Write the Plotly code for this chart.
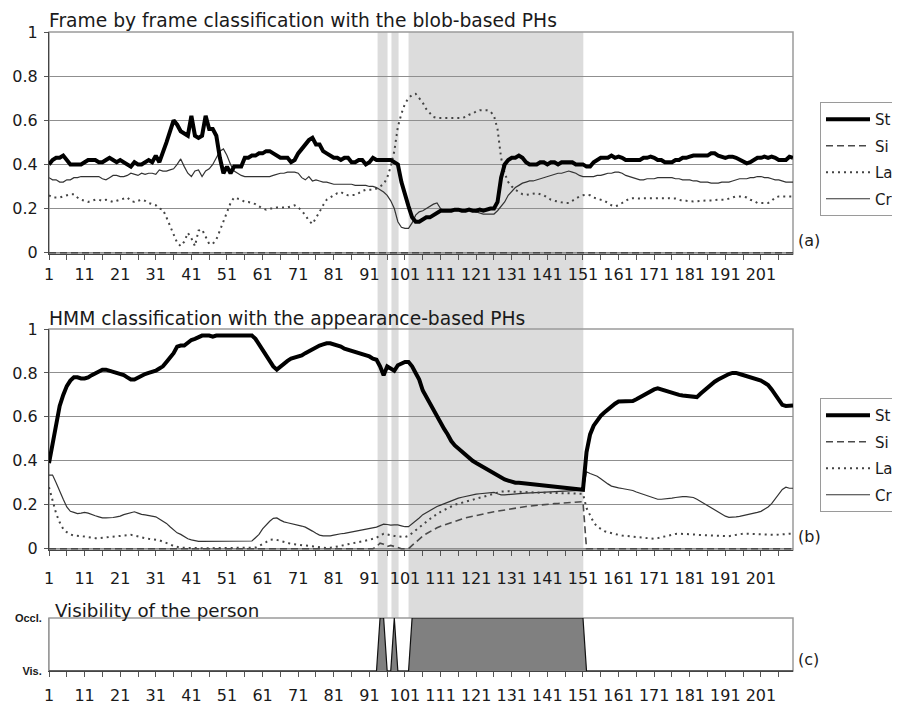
import plotly.graph_objects as go

FRAMES = list(range(1, 211))

# ---------- panel (a): frame by frame classification ----------
A_ST = [
 .40,.42,.43,.43,.44,.42,.40,.40,.40,.40,
 .41,.42,.42,.42,.41,.41,.42,.43,.42,.41,
 .42,.41,.40,.39,.41,.40,.40,.41,.42,.41,
 .44,.41,.45,.50,.55,.60,.58,.55,.54,.53,
 .62,.53,.52,.53,.62,.56,.56,.53,.43,.36,
 .39,.36,.39,.39,.39,.43,.43,.44,.44,.45,
 .45,.46,.46,.45,.44,.43,.43,.43,.41,.42,
 .45,.47,.49,.51,.52,.49,.49,.46,.45,.44,
 .43,.43,.42,.43,.43,.41,.41,.42,.42,.40,
 .41,.43,.42,.42,.42,.42,.42,.41,.40,.32,
 .26,.21,.16,.14,.14,.15,.16,.16,.17,.18,
 .19,.19,.19,.19,.195,.195,.19,.19,.195,.19,
 .19,.195,.19,.195,.20,.20,.23,.34,.40,.42,
 .43,.43,.44,.43,.41,.40,.40,.40,.41,.41,
 .40,.41,.41,.40,.41,.41,.41,.41,.40,.40,
 .40,.39,.39,.41,.42,.43,.43,.43,.44,.43,
 .435,.43,.42,.42,.42,.42,.42,.43,.43,.435,
 .43,.42,.42,.41,.41,.41,.42,.42,.43,.43,
 .435,.44,.44,.44,.44,.44,.45,.45,.44,.435,
 .43,.435,.435,.43,.42,.41,.405,.41,.42,.43,
 .43,.435,.43,.435,.43,.42,.42,.42,.435,.43,
]
A_SI = [
 0,0,0,0,0,0,0,0,0,0, 0,0,0,0,0,0,0,0,0,0, 0,0,0,0,0,0,0,0,0,0,
 0,0,0,0,0,0,0,0,0,0, 0,0,0,0,0,0,0,0,0,0, 0,0,0,0,0,0,0,0,0,0,
 0,0,0,0,0,0,0,0,0,0, 0,0,0,0,0,0,0,0,0,0, 0,0,0,0,0,0,0,0,0,0,
 0,0,0,0,0,0,0,0,0,0, 0,0,0,0,0,0,0,0,0,0, 0,0,0,0,0,0,0,0,0,0,
 0,0,0,0,0,0,0,0,0,0, 0,0,0,0,0,0,0,0,0,0, 0,0,0,0,0,0,0,0,0,0,
 0,0,0,0,0,0,0,0,0,0, 0,0,0,0,0,0,0,0,0,0, 0,0,0,0,0,0,0,0,0,0,
 0,0,0,0,0,0,0,0,0,0, 0,0,0,0,0,0,0,0,0,0, 0,0,0,0,0,0,0,0,0,0,
]
A_LA = [
 .26,.25,.25,.25,.255,.26,.265,.265,.25,.24,
 .235,.23,.235,.24,.24,.235,.24,.235,.23,.235,
 .24,.245,.25,.235,.23,.235,.24,.235,.225,.22,
 .215,.20,.195,.16,.12,.08,.045,.03,.05,.09,
 .065,.03,.10,.105,.07,.04,.04,.06,.10,.14,
 .18,.225,.25,.245,.24,.23,.23,.225,.22,.21,
 .20,.195,.20,.20,.205,.205,.205,.205,.21,.215,
 .205,.19,.17,.145,.13,.155,.185,.215,.24,.25,
 .26,.27,.275,.265,.26,.26,.262,.27,.28,.285,
 .285,.285,.29,.30,.31,.34,.39,.46,.57,.63,
 .675,.70,.715,.72,.70,.68,.65,.63,.615,.61,
 .61,.61,.61,.61,.61,.61,.61,.615,.625,.63,
 .64,.645,.645,.645,.64,.62,.56,.43,.36,.32,
 .30,.285,.275,.265,.262,.265,.27,.27,.265,.26,
 .25,.24,.235,.23,.228,.225,.225,.235,.245,.255,
 .26,.262,.26,.25,.245,.24,.235,.225,.215,.21,
 .215,.225,.235,.245,.247,.245,.245,.247,.247,.248,
 .248,.25,.248,.247,.247,.245,.245,.24,.235,.235,
 .232,.232,.233,.235,.235,.237,.237,.24,.24,.24,
 .24,.245,.25,.255,.255,.255,.25,.24,.235,.225,
 .225,.225,.225,.235,.25,.255,.255,.255,.255,.255,
]
A_CR = [
 .34,.33,.33,.32,.32,.33,.33,.34,.34,.345,
 .345,.345,.345,.345,.345,.335,.33,.34,.35,.35,
 .345,.345,.35,.36,.355,.35,.36,.355,.36,.36,
 .355,.375,.37,.37,.375,.38,.40,.425,.39,.36,
 .345,.37,.375,.345,.37,.38,.40,.43,.46,.47,
 .44,.40,.37,.36,.35,.345,.345,.345,.345,.345,
 .345,.345,.345,.35,.355,.36,.36,.365,.365,.365,
 .36,.34,.33,.345,.325,.33,.325,.32,.32,.315,
 .31,.31,.31,.31,.31,.31,.305,.305,.305,.305,
 .30,.30,.295,.285,.275,.26,.235,.20,.14,.115,
 .11,.11,.135,.17,.185,.19,.20,.21,.22,.225,
 .20,.19,.19,.19,.19,.19,.19,.19,.19,.19,
 .185,.18,.175,.175,.175,.175,.19,.21,.23,.26,
 .28,.295,.305,.315,.32,.325,.325,.33,.335,.34,
 .345,.35,.355,.36,.36,.365,.37,.365,.36,.35,
 .345,.345,.345,.345,.35,.35,.355,.36,.36,.365,
 .365,.36,.35,.345,.34,.335,.33,.33,.335,.335,
 .335,.34,.34,.34,.34,.34,.335,.335,.33,.33,
 .33,.325,.325,.32,.32,.32,.315,.315,.315,.32,
 .32,.32,.325,.33,.335,.335,.335,.34,.34,.345,
 .345,.34,.34,.335,.33,.33,.325,.32,.32,.32,
]

# ---------- panel (b): HMM classification ----------
B_ST = [
 .39,.47,.57,.65,.70,.74,.765,.78,.78,.775,
 .775,.78,.79,.80,.81,.815,.815,.81,.805,.80,
 .795,.79,.78,.77,.77,.78,.79,.795,.80,.805,
 .81,.82,.83,.85,.87,.89,.92,.925,.925,.94,
 .95,.955,.965,.97,.97,.97,.965,.97,.97,.97,
 .973,.973,.97,.97,.97,.97,.973,.97,.955,.93,
 .91,.88,.855,.83,.815,.83,.845,.855,.865,.87,
 .875,.88,.89,.90,.91,.92,.925,.93,.935,.935,
 .93,.925,.92,.91,.905,.90,.895,.89,.885,.88,
 .875,.865,.86,.83,.79,.83,.82,.81,.835,.845,
 .85,.85,.83,.80,.77,.72,.69,.66,.63,.60,
 .57,.545,.52,.49,.47,.455,.44,.425,.41,.40,
 .39,.38,.37,.36,.35,.34,.33,.32,.315,.31,
 .305,.30,.30,.298,.296,.295,.293,.29,.29,.288,
 .287,.286,.284,.282,.28,.278,.276,.274,.272,.27,
 .268,.44,.52,.56,.585,.605,.62,.635,.65,.66,
 .67,.67,.67,.67,.672,.68,.69,.70,.71,.72,
 .725,.73,.725,.72,.712,.71,.705,.70,.697,.695,
 .69,.688,.69,.705,.72,.73,.745,.76,.77,.78,
 .79,.795,.80,.80,.795,.79,.785,.78,.775,.77,
 .765,.755,.745,.725,.70,.675,.655,.65,.652,.652,
]
B_SI = [
 0,0,0,0,0,0,0,0,0,0, 0,0,0,0,0,0,0,0,0,0, 0,0,0,0,0,0,0,0,0,0,
 0,0,0,0,0,0,0,0,0,0, 0,0,0,0,0,0,0,0,0,0, 0,0,0,0,0,0,0,0,0,0,
 0,0,0,0,0,0,0,0,0,0, 0,0,0,0,0,0,0,0,0,0, 0,0,0,0,0,0,0,0,0,0,
 0,0,.01,.025,.02,.01,.015,.01,.005,0,
 0,0,.015,.03,.045,.057,.068,.078,.088,.095,
 .102,.108,.114,.12,.125,.13,.135,.14,.144,.148,
 .152,.155,.159,.162,.165,.168,.171,.174,.177,.18,
 .183,.186,.188,.19,.192,.194,.196,.198,.20,.201,
 .203,.204,.205,.206,.207,.208,.209,.21,.211,.212,
 .214,0,0,0,0,0,0,0,0,0,
 0,0,0,0,0,0,0,0,0,0, 0,0,0,0,0,0,0,0,0,0, 0,0,0,0,0,0,0,0,0,0,
 0,0,0,0,0,0,0,0,0,0, 0,0,0,0,0,0,0,0,0,0,
]
B_LA = [
 .28,.22,.16,.12,.09,.075,.065,.06,.057,.057,
 .055,.052,.05,.048,.048,.05,.052,.053,.055,.056,
 .058,.06,.062,.063,.06,.055,.05,.048,.045,.043,
 .042,.038,.032,.027,.02,.012,.008,.005,.004,.003,
 .002,.002,.002,.002,.002,.002,.002,.002,.002,.002,
 .002,.002,.002,.002,.002,.002,.002,.003,.005,.012,
 .02,.03,.04,.042,.04,.035,.03,.025,.022,.02,
 .018,.015,.013,.012,.01,.008,.006,.004,.003,.004,
 .006,.01,.013,.017,.02,.023,.027,.03,.034,.037,
 .04,.045,.05,.06,.068,.065,.06,.058,.056,.054,
 .053,.058,.07,.082,.095,.11,.122,.135,.148,.158,
 .168,.177,.185,.192,.20,.205,.21,.215,.22,.224,
 .228,.232,.236,.24,.245,.25,.255,.26,.262,.262,
 .26,.259,.258,.257,.257,.256,.256,.255,.255,.255,
 .254,.254,.253,.253,.253,.252,.252,.251,.251,.25,
 .25,.185,.15,.12,.10,.088,.08,.075,.07,.066,
 .063,.06,.058,.057,.056,.054,.052,.05,.047,.045,
 .045,.048,.052,.056,.06,.064,.067,.068,.068,.067,
 .066,.065,.063,.062,.061,.06,.06,.06,.058,.057,
 .056,.057,.06,.063,.066,.068,.068,.067,.066,.066,
 .066,.065,.064,.063,.063,.064,.066,.067,.068,.068,
]
B_CR = [
 .335,.335,.30,.26,.225,.19,.17,.165,.16,.162,
 .165,.162,.155,.15,.145,.14,.14,.14,.142,.145,
 .148,.155,.16,.165,.168,.162,.156,.154,.152,.15,
 .145,.135,.125,.115,.10,.085,.072,.065,.055,.045,
 .04,.035,.033,.033,.033,.033,.033,.033,.033,.033,
 .033,.033,.033,.033,.033,.033,.033,.035,.05,.065,
 .09,.11,.125,.138,.14,.13,.122,.118,.115,.112,
 .108,.103,.098,.09,.08,.07,.062,.058,.057,.058,
 .062,.066,.068,.07,.073,.075,.078,.08,.084,.087,
 .09,.095,.098,.105,.112,.11,.107,.108,.108,.104,
 .10,.10,.112,.128,.14,.155,.165,.175,.185,.192,
 .198,.205,.212,.218,.224,.23,.234,.238,.242,.245,
 .248,.25,.252,.254,.256,.256,.25,.245,.245,.247,
 .248,.25,.25,.252,.253,.254,.255,.256,.257,.258,
 .259,.26,.26,.26,.261,.262,.263,.264,.264,.265,
 .265,.35,.342,.335,.33,.318,.305,.295,.285,.28,
 .277,.274,.272,.27,.265,.258,.252,.248,.242,.235,
 .228,.225,.225,.226,.228,.23,.233,.236,.237,.237,
 .236,.233,.225,.215,.205,.195,.185,.175,.165,.155,
 .148,.143,.143,.145,.147,.15,.153,.156,.16,.165,
 .17,.18,.19,.205,.225,.25,.27,.28,.275,.275,
]

# ---------- panel (c): visibility (0 = visible, 1 = occluded) ----------
VIS = [
 0,0,0,0,0,0,0,0,0,0, 0,0,0,0,0,0,0,0,0,0, 0,0,0,0,0,0,0,0,0,0,
 0,0,0,0,0,0,0,0,0,0, 0,0,0,0,0,0,0,0,0,0, 0,0,0,0,0,0,0,0,0,0,
 0,0,0,0,0,0,0,0,0,0, 0,0,0,0,0,0,0,0,0,0, 0,0,0,0,0,0,0,0,0,0,
 0,0,0,1,1,0,0,1,0,0,
 0,0,1,1,1,1,1,1,1,1, 1,1,1,1,1,1,1,1,1,1, 1,1,1,1,1,1,1,1,1,1,
 1,1,1,1,1,1,1,1,1,1, 1,1,1,1,1,1,1,1,1,1,
 1,0,0,0,0,0,0,0,0,0,
 0,0,0,0,0,0,0,0,0,0, 0,0,0,0,0,0,0,0,0,0, 0,0,0,0,0,0,0,0,0,0,
 0,0,0,0,0,0,0,0,0,0, 0,0,0,0,0,0,0,0,0,0,
]

# occlusion spans shaded across the panels (frame units)
OCCL_START = [93.3, 97.2, 102.0]
OCCL_END = [96.1, 99.2, 151.1]

SERIES = ["St", "Si", "La", "Cr"]
X_TICKS = [1, 11, 21, 31, 41, 51, 61, 71, 81, 91, 101, 111, 121, 131, 141,
           151, 161, 171, 181, 191, 201]
X_LABELS = ["1", "11", "21", "31", "41", "51", "61", "71", "81", "91", "101",
            "111", "121", "131", "141", "151", "161", "171", "181", "191", "201"]
Y_TICKS = [0, 0.2, 0.4, 0.6, 0.8, 1]
Y_LABELS = ["0", "0.2", "0.4", "0.6", "0.8", "1"]

# the page body adds an 8px margin, so the figure is sized to the remaining area
OFF = 8
W, H = 900 - OFF, 706 - OFF
FONT = "DejaVu Sans, Liberation Sans, Arial, sans-serif"
TXT = "#1a1a1a"


def py(px):
    return 1 - (px - OFF) / H


def pxx(px):
    return (px - OFF) / W


STYLE = {
    "St": dict(color="#000000", width=4),
    "Si": dict(color="#4a4a4a", width=1.6, dash="7px,4px"),
    "La": dict(color="#444444", width=2, dash="2px,4px"),
    "Cr": dict(color="#333333", width=1.2),
}
RANK = {"St": 1, "Si": 2, "La": 3, "Cr": 4}

fig = go.Figure()

panel_a = {"St": A_ST, "Si": A_SI, "La": A_LA, "Cr": A_CR}
panel_b = {"St": B_ST, "Si": B_SI, "La": B_LA, "Cr": B_CR}

for name in ["Cr", "La", "Si", "St"]:
    fig.add_trace(go.Scatter(
        x=FRAMES, y=panel_a[name], name=name, mode="lines",
        line=STYLE[name], xaxis="x", yaxis="y", legend="legend",
        legendgroup="a" + name, legendrank=RANK[name], hoverinfo="skip"))
for name in ["Cr", "La", "Si", "St"]:
    fig.add_trace(go.Scatter(
        x=FRAMES, y=panel_b[name], name=name, mode="lines",
        line=STYLE[name], xaxis="x2", yaxis="y2", legend="legend2",
        legendgroup="b" + name, legendrank=RANK[name], hoverinfo="skip"))

fig.add_trace(go.Scatter(
    x=FRAMES, y=VIS, mode="lines", fill="tozeroy", fillcolor="#808080",
    line=dict(color="#111111", width=1.2), xaxis="x3", yaxis="y3",
    showlegend=False, hoverinfo="skip"))

XDOM = [pxx(49), pxx(793)]
tickfont = dict(family=FONT, size=16, color=TXT)


def xaxis(anchor, standoff):
    return dict(
        domain=XDOM, anchor=anchor, range=[1, 210], showgrid=False,
        zeroline=False, showline=True, linecolor="#444444", linewidth=1.2,
        tickmode="array", tickvals=X_TICKS, ticktext=X_LABELS,
        ticks="outside", ticklen=5, tickcolor="#555555", tickwidth=1,
        minor=dict(tickmode="linear", tick0=6, dtick=10, ticks="outside",
                   ticklen=5, tickcolor="#555555", tickwidth=1),
        tickfont=tickfont, ticklabelstandoff=standoff, fixedrange=True)


def yaxis(anchor, dom):
    return dict(
        domain=dom, anchor=anchor, range=[-0.006, 1], showgrid=True,
        gridcolor="#8f8f8f", gridwidth=1, zeroline=False, showline=True,
        linecolor="#444444", linewidth=1.2, tickmode="array",
        tickvals=Y_TICKS, ticktext=Y_LABELS, ticks="outside", ticklen=4,
        tickcolor="#555555", tickfont=tickfont, ticklabelstandoff=3,
        fixedrange=True)


shapes = []
for s, e in zip(OCCL_START, OCCL_END):
    shapes.append(dict(type="rect", xref="x", yref="paper", x0=s, x1=e,
                       y0=py(618), y1=py(32), fillcolor="#dcdcdc",
                       line=dict(width=0), layer="below"))
for xr, yr in [("x", "y"), ("x2", "y2"), ("x3", "y3")]:
    shapes.append(dict(type="rect", xref=xr + " domain", yref=yr + " domain",
                       x0=0, x1=1, y0=0, y1=1, fillcolor="rgba(0,0,0,0)",
                       line=dict(color="#9a9a9a", width=1.5), layer="below"))

legend_common = dict(
    xanchor="left", yanchor="top", bgcolor="white", bordercolor="#9a9a9a",
    borderwidth=1, font=dict(family=FONT, size=15, color=TXT),
    traceorder="grouped", tracegroupgap=4, itemwidth=44)


def label(text, xpx, ypx, size):
    return dict(text=text, x=pxx(xpx), y=py(ypx), xref="paper", yref="paper",
                xanchor="left", yanchor="middle", showarrow=False,
                font=dict(family=FONT, size=size, color=TXT))


annotations = [
    label("Frame by frame classification with the blob-based PHs", 47, 21, 18.7),
    label("HMM classification with the appearance-based PHs", 47, 318, 18.7),
    label("Visibility of the person", 53, 610, 18.3),
    label("(a)", 796, 240, 16),
    label("(b)", 796, 536, 16),
    label("(c)", 796, 659, 16),
]

fig.update_layout(
    width=W, height=H, margin=dict(l=0, r=0, t=0, b=0, autoexpand=False),
    paper_bgcolor="white", plot_bgcolor="rgba(0,0,0,0)",
    font=dict(family=FONT, color=TXT),
    xaxis=xaxis("y", 1),
    yaxis=yaxis("x", [py(254), py(32)]),
    xaxis2=xaxis("y2", 9),
    yaxis2=yaxis("x2", [py(550), py(329)]),
    xaxis3=xaxis("y3", 5),
    yaxis3=dict(domain=[py(671), py(618)], anchor="x3", range=[0, 1],
                showgrid=False, zeroline=False, showline=True,
                linecolor="#9a9a9a", tickmode="array", tickvals=[0, 1],
                ticktext=["Vis.", "Occl."], ticks="",
                tickfont=dict(family="Liberation Sans, Arial, sans-serif",
                              size=11, color=TXT, weight="bold"),
                ticklabelstandoff=4, fixedrange=True),
    legend=dict(x=pxx(820), y=py(102), **legend_common),
    legend2=dict(x=pxx(820), y=py(398), **legend_common),
    shapes=shapes, annotations=annotations, showlegend=True,
)

fig.write_html("out.html")
